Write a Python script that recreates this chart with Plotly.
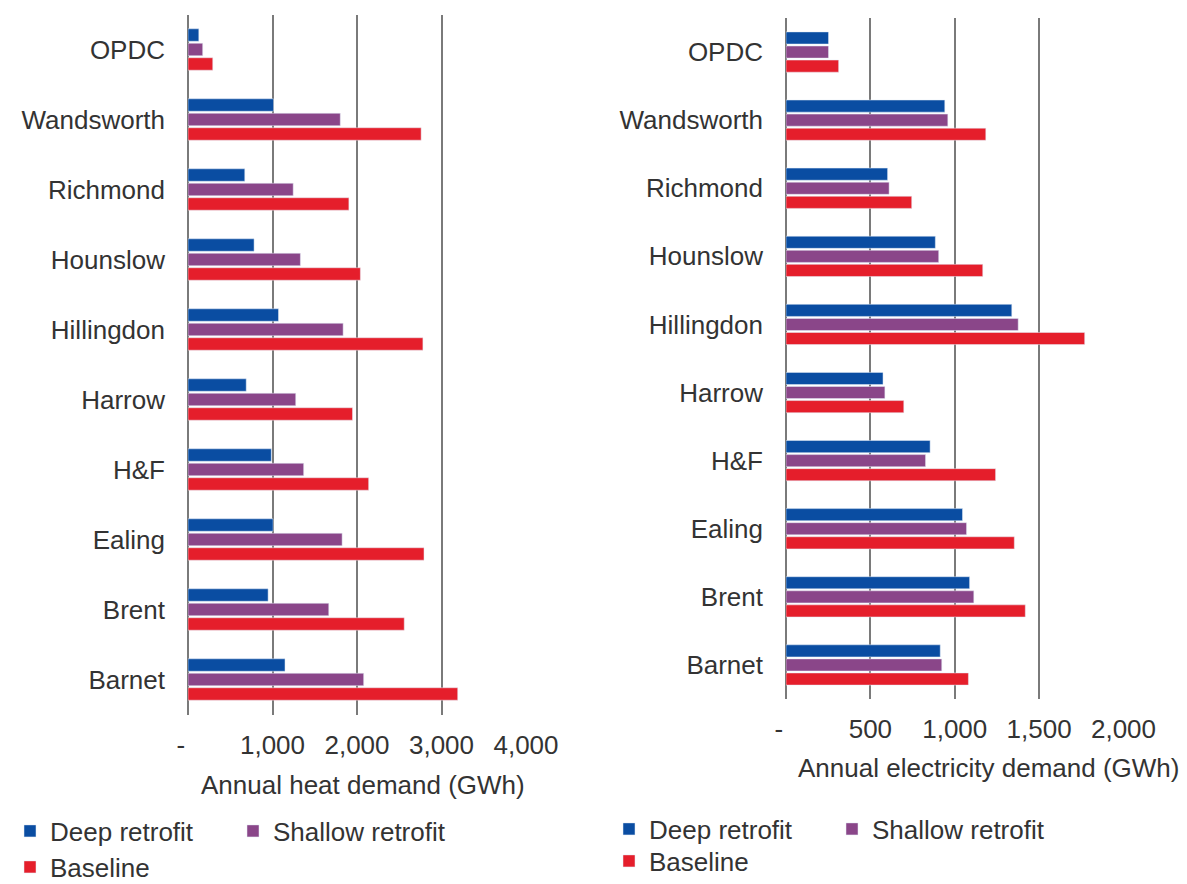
import plotly.graph_objects as go
from plotly.subplots import make_subplots

# boroughs, top to bottom
boroughs = ["OPDC", "Wandsworth", "Richmond", "Hounslow", "Hillingdon",
            "Harrow", "H&F", "Ealing", "Brent", "Barnet"]

# annual heat demand (GWh)
heat_deep = [128, 1012, 672, 782, 1071, 689, 986, 1007, 948, 1148]
heat_shallow = [174, 1802, 1245, 1330, 1836, 1275, 1369, 1824, 1666, 2079]
heat_baseline = [293, 2759, 1904, 2040, 2780, 1947, 2138, 2793, 2559, 3192]

# annual electricity demand (GWh)
elec_deep = [252, 941, 602, 885, 1338, 575, 854, 1046, 1088, 914]
elec_shallow = [252, 959, 611, 905, 1376, 586, 827, 1070, 1113, 923]
elec_baseline = [312, 1184, 745, 1166, 1770, 698, 1242, 1353, 1418, 1081]

heat_ticks = [0, 1000, 2000, 3000, 4000]
heat_ticktext = ["-\u00a0\u00a0", "1,000", "2,000", "3,000", "4,000"]
elec_ticks = [0, 500, 1000, 1500, 2000]
elec_ticktext = ["-\u00a0\u00a0", "500", "1,000", "1,500", "2,000"]

series_names = ["Deep retrofit", "Shallow retrofit", "Baseline"]
colors = ["#0a4da2", "#8a4689", "#e51e2b"]

FONT = "Liberation Sans, Arial, sans-serif"
TXT = "#333333"
GRID = "#7a7a7a"

# the page body keeps its default 8px margin, so the figure starts at (8, 8)
OFF = 8
FW, FH = 1187 - 2 * OFF, 884 - OFF


def px(x):
    return (x - OFF) / FW


def py(y):
    return 1 - (y - OFF) / FH


fig = make_subplots(rows=1, cols=2)

heat_sets = [heat_deep, heat_shallow, heat_baseline]
elec_sets = [elec_deep, elec_shallow, elec_baseline]
# deep + shallow share a row, baseline sits on a row of its own
left_legends = ["legend", "legend", "legend2"]
right_legends = ["legend3", "legend3", "legend4"]

for name, col, vals, lg in zip(series_names, colors, heat_sets, left_legends):
    fig.add_trace(go.Bar(y=boroughs, x=vals, name=name, orientation="h",
                         marker_color=col, legend=lg), row=1, col=1)
for name, col, vals, lg in zip(series_names, colors, elec_sets, right_legends):
    fig.add_trace(go.Bar(y=boroughs, x=vals, name=name, orientation="h",
                         marker_color=col, legend=lg), row=1, col=2)

xcommon = dict(showgrid=True, gridcolor=GRID, gridwidth=1.5,
               zeroline=True, zerolinecolor=GRID, zerolinewidth=1.5,
               showline=False, ticks="", ticklabelstandoff=12, automargin=False,
               tickfont=dict(family=FONT, size=26, color=TXT))
ycommon = dict(categoryorder="array", categoryarray=boroughs,
               autorange="reversed", showgrid=False, zeroline=False,
               showline=False, ticks="", ticklabelstandoff=22, automargin=False,
               tickfont=dict(family=FONT, size=26, color=TXT))

fig.update_xaxes(range=[0, 4000], tickvals=heat_ticks, ticktext=heat_ticktext,
                 domain=[px(188), px(526)], row=1, col=1, **xcommon)
fig.update_xaxes(range=[0, 2000], tickvals=elec_ticks, ticktext=elec_ticktext,
                 domain=[px(786), px(1123.5)], row=1, col=2, **xcommon)
fig.update_yaxes(domain=[py(714.5), py(14.5)], row=1, col=1, **ycommon)
fig.update_yaxes(domain=[py(699), py(18)], row=1, col=2, **ycommon)

legend_font = dict(family=FONT, size=26, color=TXT)
leg = dict(orientation="h", xanchor="left", yanchor="middle",
           entrywidth=178, font=legend_font, bgcolor="rgba(0,0,0,0)",
           tracegroupgap=0)

fig.update_layout(
    width=FW, height=FH,
    # legends sit at the very bottom; keep them from pushing the margins
    margin=dict(l=0, r=0, t=0, b=0, autoexpand=False),
    paper_bgcolor="white", plot_bgcolor="white",
    barmode="group", bargap=0.38, bargroupgap=0.14,
    font=dict(family=FONT, color=TXT),
    legend=dict(x=px(10), y=py(831), **leg),
    legend2=dict(x=px(10), y=py(867), **leg),
    legend3=dict(x=px(609), y=py(829), **leg),
    legend4=dict(x=px(609), y=py(861), **leg),
    annotations=[
        dict(text="Annual heat demand (GWh)", xref="paper", yref="paper",
             x=px(363), y=py(785), xanchor="center", yanchor="middle",
             showarrow=False, font=dict(family=FONT, size=26, color=TXT)),
        dict(text="Annual electricity demand (GWh)", xref="paper", yref="paper",
             x=px(988), y=py(768), xanchor="center", yanchor="middle",
             showarrow=False, font=dict(family=FONT, size=26, color=TXT)),
    ],
)

fig.write_html("out.html")
